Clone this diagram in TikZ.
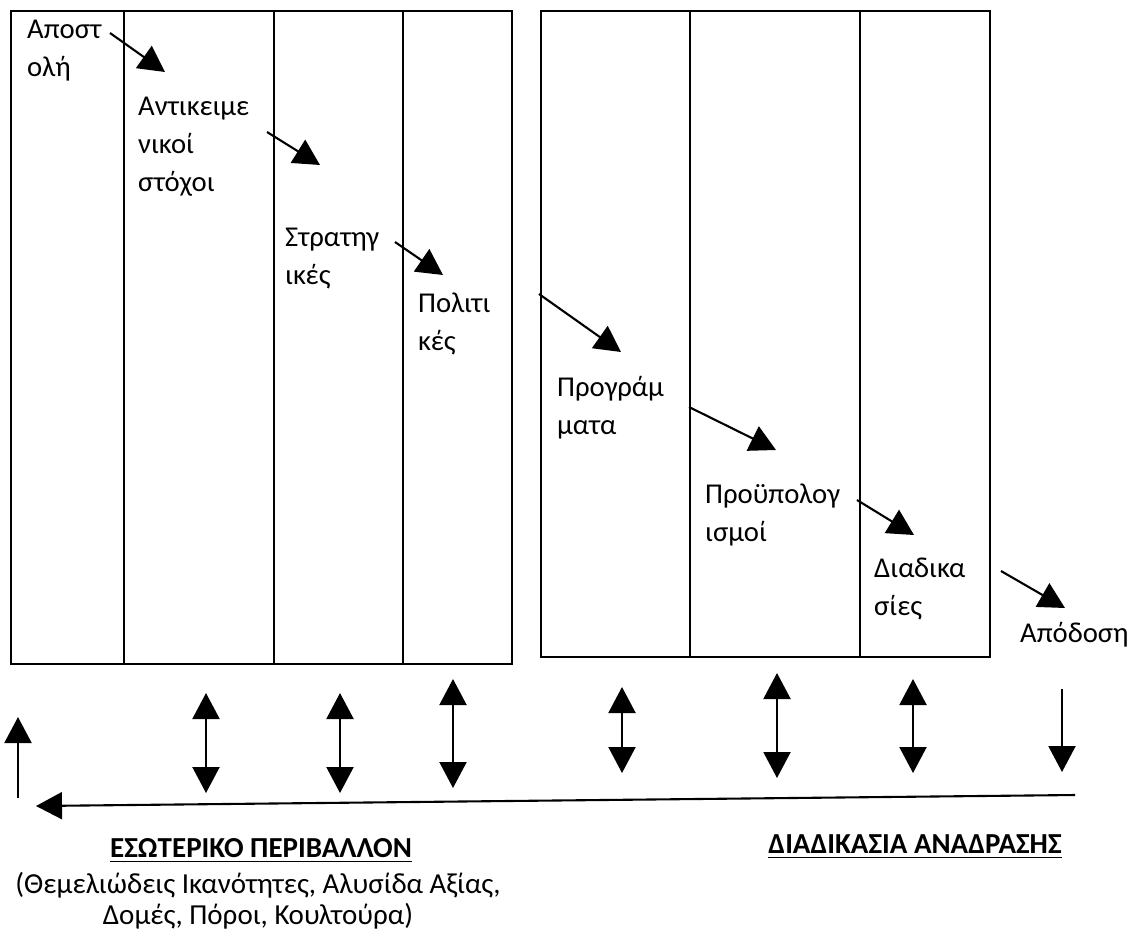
\documentclass[tikz,border=0pt]{standalone}
\usepackage{fontspec}
\setmainfont{Carlito}
\usetikzlibrary{arrows.meta}
% stacked lines; the box baseline is the first line's baseline
\newcommand\colstack[1]{\vtop{\halign{##\hfil\cr#1\crcr}}}
\newcommand\ccolstack[1]{\vtop{\halign{\hfil##\hfil\cr#1\crcr}}}
\begin{document}
\begin{tikzpicture}[x=1pt,y=-1pt,
  >={Triangle[length=26pt,width=27pt]},
  frame/.style={line width=2.2pt},
  flow/.style={->,line width=2.1pt},
  link/.style={<->,line width=2.1pt},
  lbl/.style={anchor=base west,inner sep=0pt,font=\fontsize{28.7}{38}\selectfont},
  head/.style={anchor=base,inner sep=0pt,font=\fontsize{29}{38}\selectfont\bfseries},
  note/.style={anchor=base,inner sep=0pt,font=\fontsize{29}{31.5}\selectfont},
  uline/.style={line width=1.9pt}]
\fill[white] (0,0) rectangle (1137,935);
\useasboundingbox (0,0) rectangle (1137,935);

% strategy block
\draw[frame] (11,11) rectangle (512,664);
\draw[frame] (124,11) -- (124,664) (274,11) -- (274,664) (403,11) -- (403,664);
% implementation block
\draw[frame] (541,11) rectangle (990,657);
\draw[frame] (690,11) -- (690,657) (860,11) -- (860,657);

% stage labels
\node[lbl] (apost) at (27,38)   {\colstack{Αποστ\cr ολή}};
\node[lbl] (antik) at (138,115) {\colstack{Αντικειμε\cr νικοί\cr στόχοι}};
\node[lbl] (strat) at (285,246) {\colstack{Στρατηγ\cr ικές}};
\node[lbl] (polit) at (418,312) {\colstack{Πολιτι\cr κές}};
\node[lbl] (progr) at (557,396) {\colstack{Προγράμ\cr ματα}};
\node[lbl] (proyp) at (705,503) {\colstack{Προϋπολογ\cr ισμοί}};
\node[lbl] (diad)  at (874,577) {\colstack{Διαδικα\cr σίες}};
\node[lbl] (apod)  at (1020,642) {Απόδοση};

% cascade arrows between stages
\coordinate (f1a) at (110,33);   \coordinate (f1b) at (165,72);
\coordinate (f2a) at (267,132);  \coordinate (f2b) at (320,165);
\coordinate (f3a) at (395,242);  \coordinate (f3b) at (443,275);
\coordinate (f4a) at (539,294);  \coordinate (f4b) at (621,352);
\coordinate (f5a) at (689,407);  \coordinate (f5b) at (776,450);
\coordinate (f6a) at (857,500);  \coordinate (f6b) at (914,535);
\coordinate (f7a) at (1001,571); \coordinate (f7b) at (1065,608);
\foreach \i in {1,...,7} \draw[flow] (f\i a) -- (f\i b);

% links to the internal environment
\coordinate (l1a) at (206,693); \coordinate (l1b) at (206,793);
\coordinate (l2a) at (340,693); \coordinate (l2b) at (340,793);
\coordinate (l3a) at (453,679); \coordinate (l3b) at (453,788);
\coordinate (l4a) at (622,687); \coordinate (l4b) at (622,773);
\coordinate (l5a) at (777,673); \coordinate (l5b) at (777,778);
\coordinate (l6a) at (913,679); \coordinate (l6b) at (913,773);
\foreach \i in {1,...,6} \draw[link] (l\i a) -- (l\i b);

% feedback loop
\coordinate (dA) at (1062,689); \coordinate (dB) at (1062,772);
\draw[flow] (dA) -- (dB);
\coordinate (fbR) at (1075,795); \coordinate (fbL) at (36,806);
\draw[flow] (fbR) -- (fbL);
\coordinate (uA) at (18,798); \coordinate (uB) at (18,717);
\draw[flow] (uA) -- (uB);

% captions
\node[head] (esot)  at (261,857) {ΕΣΩΤΕΡΙΚΟ ΠΕΡΙΒ^^^^0386ΛΛΟΝ};
\draw[uline] ([yshift=-4.5pt]esot.base west) -- ([yshift=-4.5pt]esot.base east);
\node[head] (anadr) at (915,853) {ΔΙΑΔΙΚΑΣΙΑ ΑΝΑΔΡΑΣΗΣ};
\draw[uline] ([yshift=-4.5pt]anadr.base west) -- ([yshift=-4.5pt]anadr.base east);
\node[note] (pors) at (258,893) {\ccolstack{(Θεμελιώδεις Ικανότητες, Αλυσίδα Αξίας,\cr Δομές, Πόροι, Κουλτούρα)}};
\end{tikzpicture}
\end{document}
